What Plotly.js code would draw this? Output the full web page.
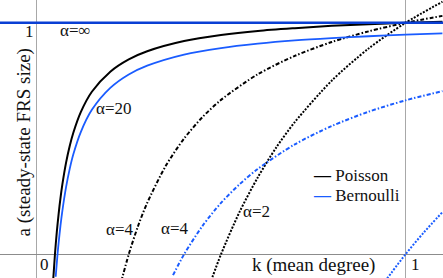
<!DOCTYPE html>
<html>
<head>
<meta charset="utf-8">
<script src="https://cdn.plot.ly/plotly-3.0.1.min.js"></script>
<style>
html,body{margin:0;padding:0;background:#fff;}
#chart{width:443px;height:278px;}
#chart svg text{font-family:"Times New Roman","Liberation Serif",serif !important;}
</style>
</head>
<body>
<div id="chart"></div>
<script>
// ---- data (k = mean degree, a = steady-state FRS size) ----
const kInf = [-0.1, 1.11];
const aInf = [1, 1];

const kPois20 = [0.045, 0.05, 0.055, 0.06, 0.065, 0.07, 0.08, 0.09, 0.1, 0.12, 0.15, 0.2, 0.25, 0.3, 0.4, 0.5, 0.6, 0.7, 0.8, 0.9, 1.0, 1.1];
const aPois20 = [-0.117, 0, 0.096, 0.175, 0.243, 0.301, 0.395, 0.468, 0.526, 0.614, 0.702, 0.789, 0.842, 0.877, 0.921, 0.947, 0.965, 0.977, 0.987, 0.994, 1.0, 1.005];

const kPois4 = [0.23, 0.25, 0.275, 0.3, 0.35, 0.4, 0.45, 0.5, 0.6, 0.7, 0.8, 0.9, 1.0, 1.1];
const aPois4 = [-0.116, 0, 0.121, 0.222, 0.381, 0.5, 0.593, 0.667, 0.778, 0.857, 0.917, 0.963, 1.0, 1.030];

const kPois2 = [0.47, 0.5, 0.55, 0.6, 0.65, 0.7, 0.8, 0.9, 1.0, 1.1];
const aPois2 = [-0.128, 0, 0.182, 0.333, 0.462, 0.571, 0.75, 0.889, 1.0, 1.091];

const kBern20 = [0.052, 0.057, 0.06, 0.065, 0.07, 0.08, 0.09, 0.1, 0.12, 0.15, 0.2, 0.25, 0.3, 0.4, 0.5, 0.6, 0.7, 0.8, 0.9, 1.0, 1.1];
const aBern20 = [-0.097, 0, 0.050, 0.124, 0.187, 0.289, 0.369, 0.433, 0.528, 0.624, 0.719, 0.777, 0.815, 0.863, 0.891, 0.910, 0.924, 0.934, 0.942, 0.949, 0.954];

const kBern4 = [0.37, 0.4, 0.45, 0.5, 0.55, 0.6, 0.7, 0.8, 0.9, 1.0, 1.1];
const aBern4 = [-0.090, 0, 0.123, 0.222, 0.302, 0.369, 0.475, 0.554, 0.616, 0.665, 0.705];

const kBern2 = [0.95, 1.0, 1.05, 1.1];
const aBern2 = [-0.105, 0, 0.095, 0.182];

const seriesNames = ['Poisson', 'Bernoulli'];
const alphaLabels = ['α=∞', 'α=20', 'α=4', 'α=4', 'α=2'];
const xTickLabels = ['0', '1'];
const yTickLabels = ['1'];
const xTitle = 'k (mean degree)';
const yTitle = 'a (steady-state FRS size)';

// ---- styles ----
const BLACK = '#000000';
const BLUE = '#1a5cff';
const BLUE_DARK = '#0a3fd4';
const DASHDOT = '4px,2px,1.5px,2px';
const DOT = '2px,1.5px';
const SERIF = 'Times New Roman';

function tr(x, y, color, width, dash) {
  return {x: x, y: y, type: 'scatter', mode: 'lines', showlegend: false, hoverinfo: 'skip',
          line: {color: color, width: width, dash: dash, shape: 'spline', smoothing: 0.8}};
}

const traces = [
  tr(kPois20, aPois20, BLACK, 2, 'solid'),
  tr(kPois4, aPois4, BLACK, 2, DASHDOT),
  tr(kPois2, aPois2, BLACK, 2, DOT),
  tr(kBern20, aBern20, BLUE, 1.8, 'solid'),
  tr(kBern4, aBern4, BLUE, 2, DASHDOT),
  tr(kBern2, aBern2, BLUE, 2, DOT),
  tr(kInf, aInf, BLUE_DARK, 2.5, 'solid')
];

function ann(text, x, y, size, extra) {
  const a = {text: text, x: x, y: y, xref: 'x', yref: 'y', showarrow: false,
    xanchor: 'center', yanchor: 'middle', font: {family: SERIF, size: size, color: '#111'}};
  return Object.assign(a, extra || {});
}

const annList = [
  ann(alphaLabels[0], 0.107, 0.965, 17),
  ann(alphaLabels[1], 0.2087, 0.628, 17),
  ann(alphaLabels[2], 0.225, 0.109, 17),
  ann(alphaLabels[3], 0.374, 0.1136, 17),
  ann(alphaLabels[4], 0.595, 0.183, 17),
  ann(yTickLabels[0], -0.019, 0.962, 17),
  ann(xTickLabels[0], 0.023, -0.046, 17),
  ann(xTickLabels[1], 1.027, -0.042, 17),
  ann(xTitle, 0.751, -0.046, 19),
  ann(yTitle, -0.0339, 0.483, 19, {textangle: -90}),
  ann('<span style="color:' + BLACK + '"><b>—</b></span> ' + seriesNames[0], 0.744, 0.3425, 17, {xanchor: 'left'}),
  ann('<span style="color:' + BLUE + '"><b>—</b></span> ' + seriesNames[1], 0.744, 0.256, 17, {xanchor: 'left'})
];

const chartLayout = {
  width: 443, height: 278,
  margin: {l: 0, r: 0, t: 0, b: 0, pad: 0},
  paper_bgcolor: '#ffffff', plot_bgcolor: '#ffffff',
  showlegend: false,
  font: {family: SERIF},
  xaxis: {range: [-0.0989, 1.1016], showticklabels: false, ticks: '', tickvals: [1],
          showgrid: true, gridcolor: '#a8a8a8', gridwidth: 1.3,
          zeroline: true, zerolinecolor: '#a8a8a8', zerolinewidth: 1.3, showline: false, fixedrange: true},
  yaxis: {range: [-0.1024, 1.0985], showticklabels: false, ticks: '', tickvals: [1],
          showgrid: true, gridcolor: '#a8a8a8', gridwidth: 1,
          zeroline: true, zerolinecolor: '#8c8c8c', zerolinewidth: 1.3, showline: false, fixedrange: true},
  annotations: annList
};

Plotly.newPlot('chart', traces, chartLayout, {staticPlot: true, displayModeBar: false});
</script>
</body>
</html>
